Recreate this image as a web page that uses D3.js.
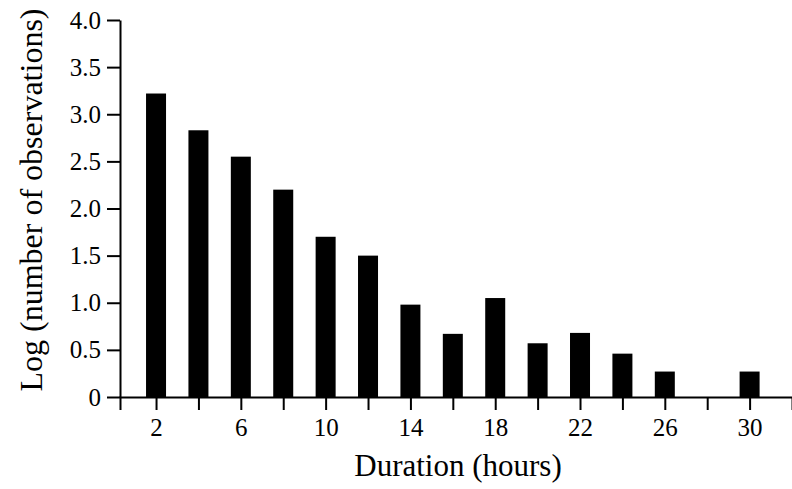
<!DOCTYPE html>
<html>
<head>
<meta charset="utf-8">
<script src="https://cdn.jsdelivr.net/npm/d3@7"></script>
<style>
  body { margin: 0; background: #fff; }
  svg { display: block; }
  text { font-family: "Liberation Serif", "Times New Roman", serif; fill: #000; }
</style>
</head>
<body>
<svg id="svg" width="792" height="489"></svg>
<script>
// duration bins (hours) and log counts
var hours = [2, 4, 6, 8, 10, 12, 14, 16, 18, 20, 22, 24, 26, 28, 30];
var logObs = [3.22, 2.83, 2.55, 2.20, 1.70, 1.50, 0.98, 0.67, 1.05, 0.57, 0.68, 0.46, 0.27, 0, 0.27];
var xTicks = [2, 4, 6, 8, 10, 12, 14, 16, 18, 20, 22, 24, 26, 28, 30];
var xLabels = [2, 6, 10, 14, 18, 22, 26, 30];
var yTicks = [0, 0.5, 1, 1.5, 2, 2.5, 3, 3.5, 4];

var svg = d3.select("#svg");

var x = d3.scaleLinear().domain([0.3, 32]).range([120, 792]);
var y = d3.scaleLinear().domain([0, 4]).range([397, 20]);
var barW = 20;

// bars
svg.selectAll("rect.bar")
    .data(hours.map(function(h, i) { return {h: h, v: logObs[i]}; }))
    .enter().append("rect")
    .attr("class", "bar")
    .attr("x", function(d) { return x(d.h) - barW / 2; })
    .attr("y", function(d) { return y(d.v); })
    .attr("width", barW)
    .attr("height", function(d) { return y(0) - y(d.v); })
    .attr("fill", "#000");

// x axis
var xAxis = d3.axisBottom(x)
    .tickValues(xTicks)
    .tickSize(13)
    .tickSizeOuter(13)
    .tickPadding(8)
    .tickFormat(function(d) { return xLabels.indexOf(d) >= 0 ? d : ""; });

var gx = svg.append("g")
    .attr("transform", "translate(0," + y(0) + ")")
    .call(xAxis);

// y axis
var yAxis = d3.axisLeft(y)
    .tickValues(yTicks)
    .tickSize(13)
    .tickSizeOuter(0)
    .tickPadding(6)
    .tickFormat(function(d) { return d === 0 ? "0" : d.toFixed(1); });

var gy = svg.append("g")
    .attr("transform", "translate(" + x(0.3) + ",0)")
    .call(yAxis);

[gx, gy].forEach(function(g) {
    g.selectAll("path, line").attr("stroke", "#000").attr("stroke-width", 2);
    g.selectAll("text").style("font-size", "25px").attr("fill", "#000");
    g.attr("font-family", null).attr("font-size", null);
});

// titles
svg.append("text")
    .attr("x", 458)
    .attr("y", 476)
    .attr("text-anchor", "middle")
    .style("font-size", "31px")
    .text("Duration (hours)");

svg.append("text")
    .attr("transform", "translate(42,200) rotate(-90)")
    .attr("text-anchor", "middle")
    .style("font-size", "32px")
    .text("Log (number of observations)");
</script>
</body>
</html>
